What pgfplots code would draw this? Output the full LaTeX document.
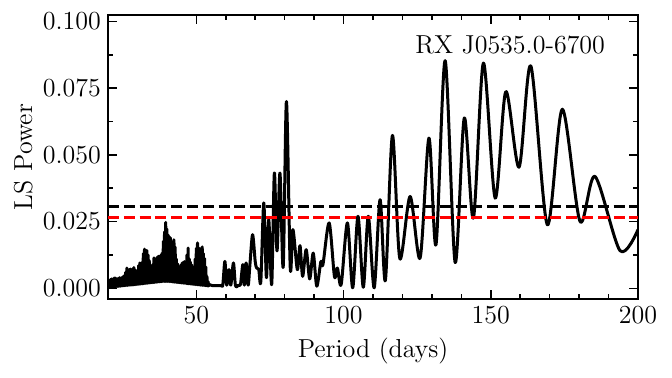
\documentclass[border=0pt]{standalone}
\usepackage{pgfplots}
\pgfplotsset{compat=1.18}

\begin{document}
\begin{tikzpicture}
\begin{axis}[
    scale only axis,
    width=265pt, height=142pt,
    xmin=20, xmax=200,
    ymin=-0.004, ymax=0.1024,
    xtick={50,100,150,200},
    minor x tick num=4,
    ytick={0,0.025,0.05,0.075,0.1},
    minor y tick num=1,
    tick align=inside,
    xtick pos=both, ytick pos=both,
    xticklabel pos=bottom, yticklabel pos=left,
    major tick length=4.5pt,
    minor tick length=2.5pt,
    every tick/.style={black, line width=0.75pt},
    axis line style={line width=0.8pt},
    scaled y ticks=false,
    /pgf/number format/assume math mode=true,
    yticklabel style={/pgf/number format/.cd, fixed, fixed zerofill, precision=3},
    tick label style={font=\fontsize{13}{15}\selectfont},
    label style={font=\fontsize{13}{15}\selectfont},
    xlabel={Period (days)},
    ylabel={LS Power},
    xlabel style={at={(axis description cs:0.5,-0.183)}, anchor=center},
    ylabel style={at={(axis description cs:-0.16,0.5)}, anchor=center},
    clip=true,
]
% dense short-period noise
\addplot[black, line width=1.5pt, line join=round] coordinates {
(20.0,.0030)(20.2,.0003)(20.4,.0028)(20.6,.0004)(20.8,.0033)(21.0,.0004)(21.2,.0035)(21.4,.0005)(21.6,.0032)(21.8,.0005)
(22.0,.0038)(22.2,.0006)(22.4,.0039)(22.6,.0006)(22.8,.0036)(23.0,.0007)(23.2,.0035)(23.4,.0007)(23.6,.0038)(23.8,.0008)
(24.0,.0040)(24.2,.0008)(24.4,.0037)(24.6,.0009)(24.8,.0041)(25.0,.0009)(25.2,.0045)(25.4,.0010)(25.6,.0048)(25.8,.0010)
(26.0,.0060)(26.2,.0011)(26.4,.0076)(26.6,.0011)(26.8,.0066)(27.0,.0012)(27.2,.0070)(27.4,.0012)(27.6,.0072)(27.8,.0012)
(28.0,.0064)(28.2,.0013)(28.4,.0074)(28.6,.0013)(28.8,.0078)(29.0,.0014)(29.2,.0070)(29.4,.0014)(29.6,.0064)(29.8,.0015)
(30.0,.0060)(30.2,.0015)(30.4,.0085)(30.6,.0016)(30.8,.0095)(31.0,.0016)(31.2,.0092)(31.4,.0017)(31.6,.0098)(31.8,.0017)
(32.0,.0130)(32.2,.0018)(32.4,.0147)(32.6,.0018)(32.8,.0138)(33.0,.0019)(33.2,.0142)(33.4,.0019)(33.6,.0125)(33.8,.0020)
(34.0,.0105)(34.2,.0020)(34.4,.0080)(34.6,.0021)(34.8,.0058)(35.0,.0021)(35.2,.0090)(35.4,.0022)(35.6,.0114)(35.8,.0022)
(36.0,.0108)(36.2,.0023)(36.4,.0112)(36.6,.0023)(36.8,.0118)(37.0,.0024)(37.2,.0120)(37.4,.0024)(37.6,.0117)(37.8,.0025)
(38.0,.0125)(38.2,.0025)(38.4,.0132)(38.6,.0026)(38.8,.0176)(39.0,.0026)(39.2,.0212)(39.4,.0026)(39.6,.0247)(39.8,.0026)
(40.0,.0222)(40.2,.0026)(40.4,.0200)(40.6,.0026)(40.8,.0194)(41.0,.0025)(41.2,.0189)(41.4,.0025)(41.6,.0175)(41.8,.0024)
(42.0,.0170)(42.2,.0024)(42.4,.0182)(42.6,.0023)(42.8,.0155)(43.0,.0023)(43.2,.0110)(43.4,.0022)(43.6,.0092)(43.8,.0022)
(44.0,.0077)(44.2,.0021)(44.4,.0082)(44.6,.0021)(44.8,.0088)(45.0,.0020)(45.2,.0095)(45.4,.0020)(45.6,.0098)(45.8,.0019)
(46.0,.0100)(46.2,.0019)(46.4,.0096)(46.6,.0018)(46.8,.0125)(47.0,.0018)(47.2,.0151)(47.4,.0017)(47.6,.0110)(47.8,.0017)
(48.0,.0098)(48.2,.0016)(48.4,.0088)(48.6,.0016)(48.8,.0078)(49.0,.0015)(49.2,.0080)(49.4,.0015)(49.6,.0110)(49.8,.0014)
(50.0,.0150)(50.2,.0014)(50.4,.0170)(50.6,.0013)(50.8,.0152)(51.0,.0013)(51.2,.0148)(51.4,.0012)(51.6,.0145)(51.8,.0012)
(52.0,.0155)(52.2,.0011)(52.4,.0130)(52.6,.0011)(52.8,.0112)(53.0,.0010)(53.2,.0080)(53.4,.0010)(53.6,.0045)(53.8,.0009)
(54.0,.0025)(54.2,.0009)(54.4,.0014)
};
% longer periods
\addplot[black, line width=1.5pt, smooth, line join=round] coordinates {
(54.4,.0014)(55.0,.0012)(55.5,.0010)(57.0,.0010)(58.5,.0010)(59.0,.0014)(59.7,.0101)(60.3,.0012)(61.1,.0070)(61.7,.0012)
(62.6,.0095)(63.3,.0010)(64.3,.0012)(65.0,.0015)(65.8,.0089)(66.3,.0012)(66.9,.0095)(67.6,.0012)(68.2,.0089)(69.1,.0201)
(70.0,.0100)(70.5,.0076)(71.2,.0070)(71.9,.0026)(72.9,.0320)(73.8,.0040)(74.6,.0257)(75.6,.0015)(76.5,.0432)(77.4,.0140)
(78.4,.0432)(79.5,.0080)(80.6,.0700)(81.9,.0076)(82.8,.0220)(84.3,.0070)(85.2,.0160)(86.1,.0045)(87.3,.0145)(88.5,.0035)
(89.7,.0132)(90.9,.0008)(92.3,.0101)(93.0,.0089)(95.1,.0245)(96.9,.0045)(97.9,.0076)(99.2,.0015)(101.3,.0245)(103.1,.0002)
(104.9,.0270)(106.7,.0004)(108.4,.0270)(110.4,.0002)(112.4,.0332)(114.2,.0030)(116.6,.0573)(119.1,.0112)(122.6,.0344)(126.0,.0114)
(129.0,.0563)(131.4,.0164)(134.5,.0853)(137.9,.0097)(141.0,.0638)(144.1,.0263)(147.5,.0844)(151.5,.0338)(155.1,.0737)(159.6,.0454)
(163.6,.0833)(169.2,.0238)(174.3,.0671)(180.3,.0251)(185.4,.0419)(193.9,.0141)(200.0,.0220)
};
% significance levels
\addplot[black, line width=1.5pt, dash pattern=on 5.5pt off 2.4pt] coordinates {(20,0.0305) (200,0.0305)};
\addplot[red, line width=1.5pt, dash pattern=on 5.5pt off 2.4pt] coordinates {(20,0.0267) (200,0.0267)};
\node[anchor=base east, font=\fontsize{13}{15}\selectfont] at (rel axis cs:0.951,0.866) {RX J0535.0-6700};
\end{axis}
\path ([shift={(-54pt,-39.5pt)}]current axis.south west) rectangle ([shift={(17pt,7.5pt)}]current axis.north east);
\end{tikzpicture}
\end{document}
